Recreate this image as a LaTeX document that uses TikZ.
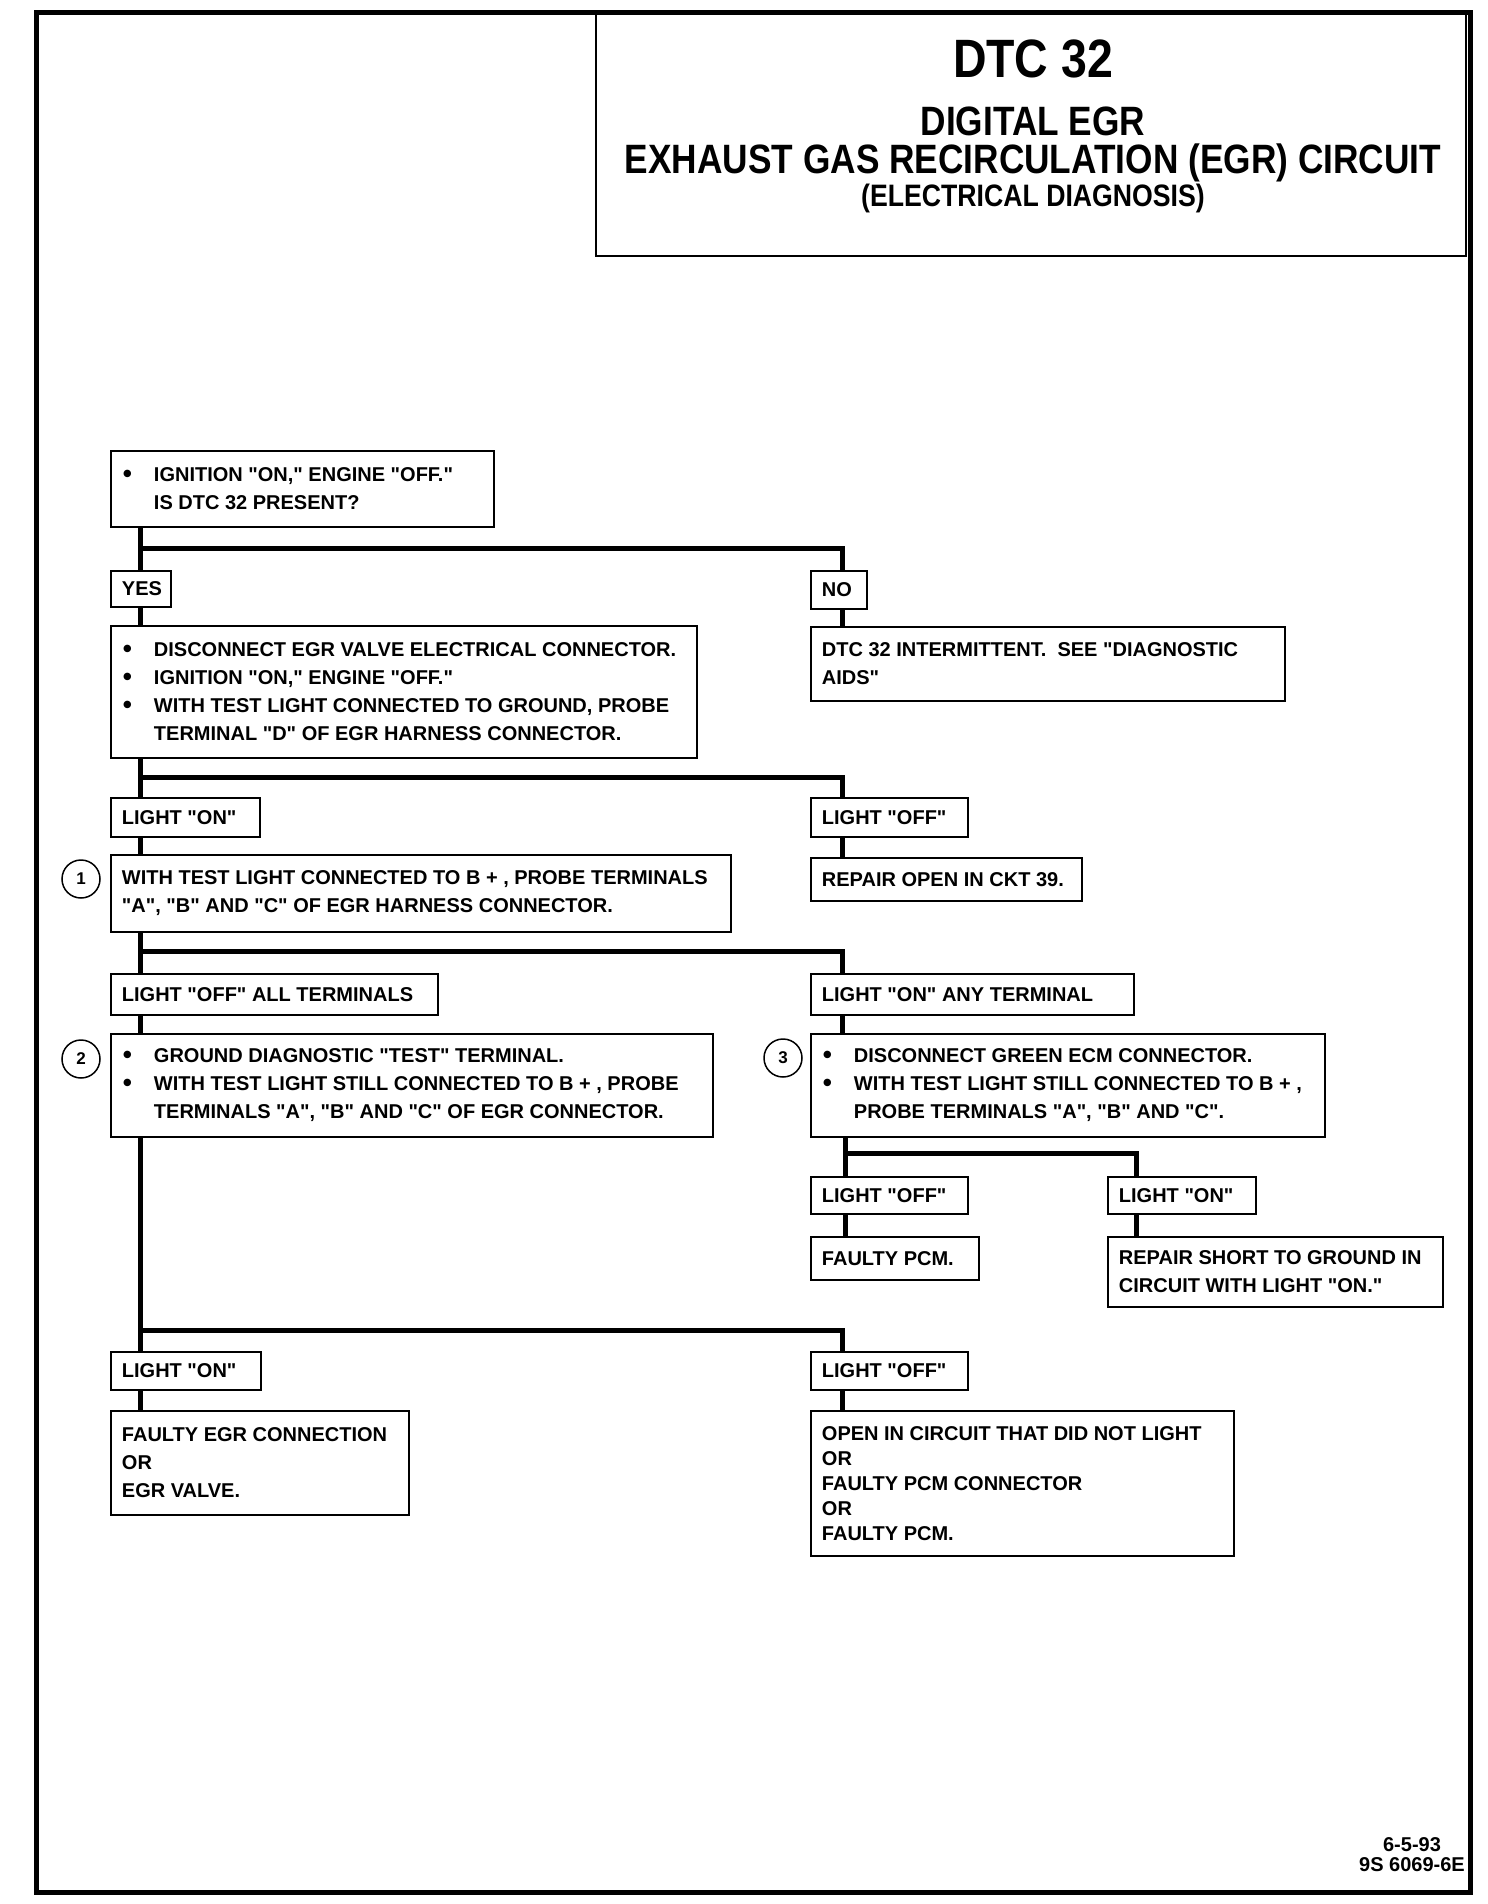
\documentclass[tikz,border=0pt]{standalone}
\usepackage{fontspec}
\setmainfont{Liberation Sans}
\newfontfamily\titlefont{Liberation Sans}[FakeStretch=0.86]
\newfontfamily\boxfontfam{Liberation Sans}
\newcommand\bl{\makebox[32pt][l]{\hspace{1pt}\raisebox{-1pt}{\fontsize{26}{26}\selectfont•}}}
\newcommand\ind{\hspace*{32pt}}
\newcommand\flowbox[7][]{%
  \pgfmathsetmacro\fbw{#5-#3}\pgfmathsetmacro\fbh{#6-#4}%
  \pgfmathsetmacro\fbx{(#3+#5)/2}\pgfmathsetmacro\fby{(#4+#6)/2}%
  \node[fbox, minimum width=\fbw pt, minimum height=\fbh pt] (#2) at (\fbx,\fby) {};
  \node[ftext, #1] (#2-t) at ([xshift=12pt]#2.west) {#7};}
\begin{document}
\begin{tikzpicture}[x=1pt,y=-1pt,
  fbox/.style={draw, line width=2.5pt, inner sep=0pt},
  ftext/.style={anchor=west, inner sep=0pt, align=left,
    font=\boxfontfam\bfseries\fontsize{20}{28}\selectfont},
  conn/.style={line width=5pt, line join=miter},
  ttl/.style={inner sep=0pt},
  numc/.style={draw, circle, line width=1.5pt, minimum size=38pt, inner sep=0pt,
    font=\boxfontfam\bfseries\fontsize{17}{20}\selectfont}]
\useasboundingbox (0,0) rectangle (1488,1904);
% outer frame
\draw[line width=5pt] (36,12) rectangle (1470,1892);
% title
\node[draw, line width=2.5pt, minimum width=870pt, minimum height=244pt, inner sep=0pt] (title) at (1031,134) {};
\node[ttl, font=\titlefont\bfseries\fontsize{54}{56}\selectfont] (t1) at (1033,59) {DTC 32};
\node[ttl, align=center, font=\titlefont\bfseries\fontsize{41}{38}\selectfont] (t2) at (1033,144) {DIGITAL EGR\\EXHAUST GAS RECIRCULATION (EGR) CIRCUIT};
\node[ttl, font=\titlefont\bfseries\fontsize{31}{34}\selectfont] (t4) at (1033,198) {(ELECTRICAL DIAGNOSIS)};
% boxes
\flowbox{A}{111}{451}{494}{527}{\bl IGNITION "ON," ENGINE "OFF."\\\ind IS DTC 32 PRESENT?}
\flowbox{YES}{111}{571}{171}{607}{YES}
\flowbox{NO}{811}{571}{867}{609}{NO}
\flowbox{B}{111}{626}{697}{758}{\bl DISCONNECT EGR VALVE ELECTRICAL CONNECTOR.\\\bl IGNITION "ON," ENGINE "OFF."\\\bl WITH TEST LIGHT CONNECTED TO GROUND, PROBE\\\ind TERMINAL "D" OF EGR HARNESS CONNECTOR.}
\flowbox{NOres}{811}{627}{1285}{701}{DTC 32 INTERMITTENT.\ \ SEE "DIAGNOSTIC\\AIDS"}
\flowbox{LON1}{111}{798}{260}{837}{LIGHT "ON"}
\flowbox{LOFF1}{811}{798}{968}{837}{LIGHT "OFF"}
\flowbox{B1}{111}{855}{731}{932}{WITH TEST LIGHT CONNECTED TO B + , PROBE TERMINALS\\"A", "B" AND "C" OF EGR HARNESS CONNECTOR.}
\flowbox{REP}{811}{858}{1082}{901}{REPAIR OPEN IN CKT 39.}
\flowbox{LOFFALL}{111}{974}{438}{1015}{LIGHT "OFF" ALL TERMINALS}
\flowbox{LONANY}{811}{974}{1134}{1015}{LIGHT "ON" ANY TERMINAL}
\flowbox{B2}{111}{1034}{713}{1137}{\bl GROUND DIAGNOSTIC "TEST" TERMINAL.\\\bl WITH TEST LIGHT STILL CONNECTED TO B + , PROBE\\\ind TERMINALS "A", "B" AND "C" OF EGR CONNECTOR.}
\flowbox{B3}{811}{1034}{1325}{1137}{\bl DISCONNECT GREEN ECM CONNECTOR.\\\bl WITH TEST LIGHT STILL CONNECTED TO B + ,\\\ind PROBE TERMINALS "A", "B" AND "C".}
\flowbox{LOFF3}{811}{1177}{968}{1214}{LIGHT "OFF"}
\flowbox{LON3}{1108}{1177}{1256}{1214}{LIGHT "ON"}
\flowbox{FPCM}{811}{1237}{979}{1280}{FAULTY PCM.}
\flowbox{RSH}{1108}{1237}{1443}{1307}{REPAIR SHORT TO GROUND IN\\CIRCUIT WITH LIGHT "ON."}
\flowbox{LON4}{111}{1352}{261}{1390}{LIGHT "ON"}
\flowbox{LOFF4}{811}{1352}{968}{1390}{LIGHT "OFF"}
\flowbox{FEGR}{111}{1411}{409}{1515}{FAULTY EGR CONNECTION\\OR\\EGR VALVE.}
\flowbox[font=\boxfontfam\bfseries\fontsize{20}{25}\selectfont]{OPEN}{811}{1411}{1234}{1556}{OPEN IN CIRCUIT THAT DID NOT LIGHT\\OR\\FAULTY PCM CONNECTOR\\OR\\FAULTY PCM.}
% numbered circles
\node[numc] (n1) at (81,879) {1};
\node[numc] (n2) at (81,1059) {2};
\node[numc] (n3) at (783,1058) {3};
% junctions
\coordinate (h1l) at (140,548); \coordinate (h1r) at (842,548);
\coordinate (h2l) at (140,777); \coordinate (h2r) at (842,777);
\coordinate (h3l) at (140,951); \coordinate (h3r) at (842,951);
\coordinate (h4l) at (845,1153); \coordinate (h4r) at (1136,1153);
\coordinate (h5l) at (140,1330); \coordinate (h5r) at (842,1330);
% connectors
\draw[conn] (A.south -| h1l) -- (YES.north -| h1l);
\draw[conn] (h1l) -- (h1r) -- (NO.north -| h1r);
\draw[conn] (YES.south -| h1l) -- (B.north -| h1l);
\draw[conn] (NO.south -| h1r) -- (NOres.north -| h1r);
\draw[conn] (B.south -| h2l) -- (LON1.north -| h2l);
\draw[conn] (h2l) -- (h2r) -- (LOFF1.north -| h2r);
\draw[conn] (LON1.south -| h2l) -- (B1.north -| h2l);
\draw[conn] (LOFF1.south -| h2r) -- (REP.north -| h2r);
\draw[conn] (B1.south -| h3l) -- (LOFFALL.north -| h3l);
\draw[conn] (h3l) -- (h3r) -- (LONANY.north -| h3r);
\draw[conn] (LOFFALL.south -| h3l) -- (B2.north -| h3l);
\draw[conn] (LONANY.south -| h3r) -- (B3.north -| h3r);
\draw[conn] (B3.south -| h4l) -- (LOFF3.north -| h4l);
\draw[conn] (h4l) -- (h4r) -- (LON3.north -| h4r);
\draw[conn] (LOFF3.south -| h4l) -- (FPCM.north -| h4l);
\draw[conn] (LON3.south -| h4r) -- (RSH.north -| h4r);
\draw[conn] (B2.south -| h5l) -- (LON4.north -| h5l);
\draw[conn] (h5l) -- (h5r) -- (LOFF4.north -| h5r);
\draw[conn] (LON4.south -| h5l) -- (FEGR.north -| h5l);
\draw[conn] (LOFF4.south -| h5r) -- (OPEN.north -| h5r);
% footer
\node[align=center, inner sep=0pt, font=\boxfontfam\bfseries\fontsize{20}{20}\selectfont] (foot) at (1412,1855) {6-5-93\\9S 6069-6E};
\end{tikzpicture}
\end{document}
